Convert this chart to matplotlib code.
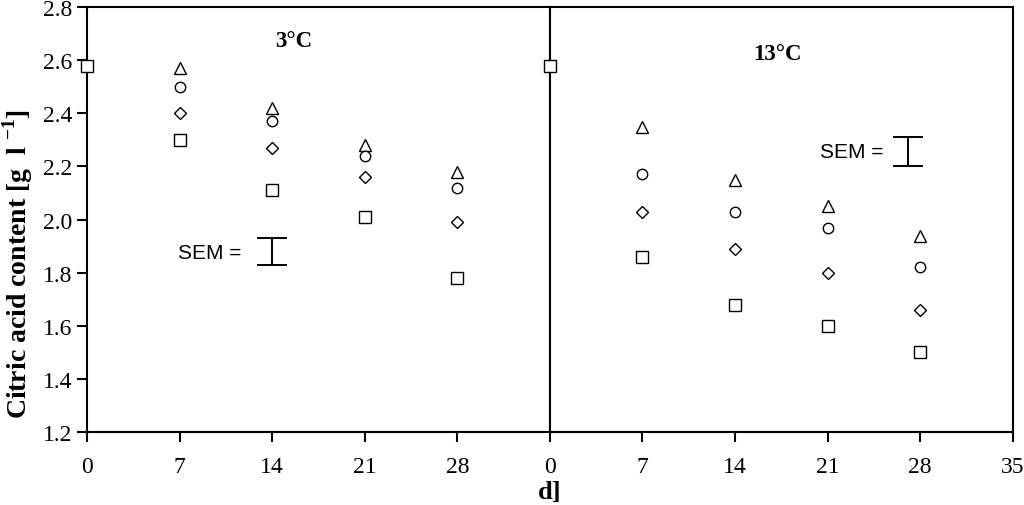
import matplotlib
matplotlib.use('Agg')
import matplotlib.pyplot as plt

plt.rcParams['font.family'] = ['Liberation Serif', 'DejaVu Serif']
plt.rcParams['mathtext.fontset'] = 'custom'
plt.rcParams['mathtext.rm'] = 'Liberation Serif:bold'
plt.rcParams['mathtext.bf'] = 'Liberation Serif:bold'

days = [7, 14, 21, 28]
start_value = 2.58

# 3 degC panel
cold_triangle = [2.57, 2.42, 2.28, 2.18]
cold_circle = [2.50, 2.37, 2.24, 2.12]
cold_diamond = [2.40, 2.27, 2.16, 1.99]
cold_square = [2.30, 2.11, 2.01, 1.78]
cold_sem = (14, 1.83, 1.93)

# 13 degC panel
warm_triangle = [2.35, 2.15, 2.05, 1.94]
warm_circle = [2.17, 2.03, 1.97, 1.82]
warm_diamond = [2.03, 1.89, 1.80, 1.66]
warm_square = [1.86, 1.68, 1.60, 1.50]
warm_sem = (27.1, 2.20, 2.31)

fig, (ax1, ax2) = plt.subplots(1, 2, figsize=(10.24, 5.06), dpi=100, sharey=True)
fig.subplots_adjust(left=0.085, right=0.989, top=0.984, bottom=0.144, wspace=0)

mk = dict(linestyle='none', markerfacecolor='white', markeredgecolor='black',
          markeredgewidth=1.0, clip_on=False, zorder=5)


def panel(ax, tri, cir, dia, sq, sem, label, label_xy, sem_text_xy):
    ax.plot(days, tri, marker='^', markersize=9, **mk)
    ax.plot(days, cir, marker='o', markersize=7.5, **mk)
    ax.plot(days, dia, marker='D', markersize=6, **mk)
    ax.plot([0] + days, [start_value] + sq, marker='s', markersize=8, **mk)
    x, lo, hi = sem
    ax.plot([x, x], [lo, hi], color='black', lw=1.4)
    ax.plot([x - 1.05, x + 1.05], [hi, hi], color='black', lw=1.4)
    ax.plot([x - 1.05, x + 1.05], [lo, lo], color='black', lw=1.4)
    ax.text(sem_text_xy[0], sem_text_xy[1], 'SEM =', family='Liberation Sans',
            fontsize=15, ha='right', va='center')
    ax.text(label_xy[0], label_xy[1], label, fontsize=16.5, fontweight='bold',
            ha='center', va='center')
    ax.set_xlim(0, 35)
    for s in ax.spines.values():
        s.set_linewidth(1.5)
    ax.tick_params(direction='out', length=7, width=1.5, labelsize=17)
    ax.tick_params(axis='x', pad=10)


panel(ax1, cold_triangle, cold_circle, cold_diamond, cold_square, cold_sem,
      '3°C', (15.6, 2.675), (11.7, 1.875))
panel(ax2, warm_triangle, warm_circle, warm_diamond, warm_square, warm_sem,
      '13°C', (17.2, 2.625), (25.2, 2.255))

ax1.set_xticks([0, 7, 14, 21, 28])
ax2.set_xticks([0, 7, 14, 21, 28, 35])
ax1.set_ylim(1.2, 2.8)
ax1.set_yticks([1.2, 1.4, 1.6, 1.8, 2.0, 2.2, 2.4, 2.6, 2.8])
ax1.set_yticklabels(['1.2', '1.4', '1.6', '1.8', '2.0', '2.2', '2.4', '2.6', '2.8'])
ax2.tick_params(axis='y', left=False, labelleft=False)

fig.text(0.017, 0.478, r'Citric acid content [g  l $^{-1}$]', fontsize=20,
         fontweight='bold', rotation=90, ha='center', va='center')
fig.text(0.537, 0.026, 'd]', fontsize=19, fontweight='bold', ha='center', va='center')

fig.savefig('out.png', dpi=100)
